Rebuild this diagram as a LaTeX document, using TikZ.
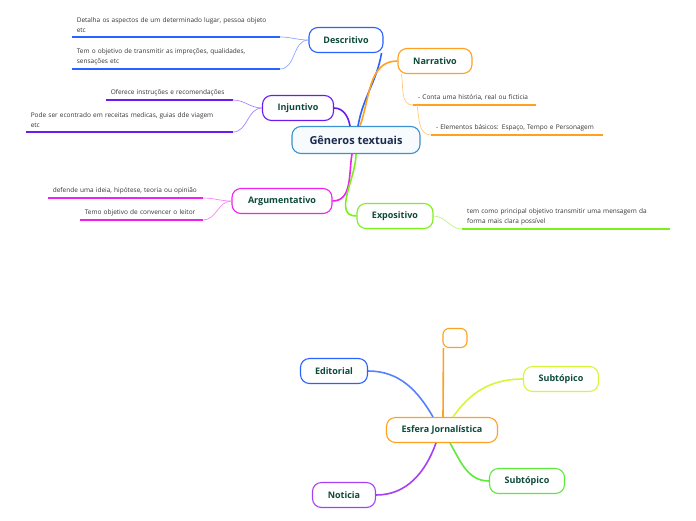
\documentclass[tikz,border=0pt]{standalone}
\usepackage{fontspec}
\setmainfont{Open Sans}
\usepackage{xcolor}
\usetikzlibrary{positioning}

\definecolor{nodetxt}{HTML}{0E4A3A}
\definecolor{maintxt}{HTML}{1B2B50}
\definecolor{leaftxt}{HTML}{333333}
\definecolor{cMain}{HTML}{3A92D0}
\definecolor{cDesc}{HTML}{2962FF}
\definecolor{cInj}{HTML}{6A1BF0}
\definecolor{cArg}{HTML}{EE22EE}
\definecolor{cNarr}{HTML}{FFA020}
\definecolor{cExpo}{HTML}{7CF01C}
\definecolor{cSubA}{HTML}{D8F53A}
\definecolor{cSubB}{HTML}{5CEB3A}
\definecolor{cNot}{HTML}{A640F5}

\begin{document}
\begin{tikzpicture}[
    x=1pt, y=-1pt,
    font=\bfseries\fontsize{9}{11}\selectfont,
    topic/.style={
      draw=#1,
      line width=1.1pt,
      rounded corners=9pt,
      fill=white,
      text=nodetxt,
      minimum height=25pt,
      inner xsep=0pt
    },
    leaf/.style={
      text width=#1,
      align=left,
      inner xsep=5pt,
      inner ysep=4pt,
      font=\fontsize{6.5}{10}\selectfont,
      text=leaftxt
    },
    branch/.style={draw=#1, line width=1.6pt},
    twig/.style={draw=#1!55, line width=0.7pt},
    uline/.style={draw=#1, line width=1.6pt}
  ]
    \useasboundingbox (0,0) rectangle (696,520);

    % first map
    \node[topic=cMain, minimum width=128pt, minimum height=27pt, fill=cMain!4,
      text=maintxt, font=\bfseries\fontsize{11}{13}\selectfont] (gt) at (356,140) {Gêneros textuais};
    \node[topic=cDesc, minimum width=74pt] (desc) at (346,40) {Descritivo};
    \node[topic=cNarr, minimum width=74pt] (narr) at (435,61) {Narrativo};
    \node[topic=cInj, minimum width=71pt] (inj) at (298,108) {Injuntivo};
    \node[topic=cArg, minimum width=100pt] (arg) at (282,201) {Argumentativo};
    \node[topic=cExpo, minimum width=76pt] (expo) at (395,216) {Expositivo};

    % leaves
    \node[leaf=198pt, anchor=south east] (d1) at (280,37)
      {Detalha os aspectos de um determinado lugar, pessoa objeto\\etc};
    \node[leaf=198pt, anchor=south east] (d2) at (280,69)
      {Tem o objetivo de transmitir as impreções, qualidades,\\sensações etc};
    \node[leaf=117pt, anchor=south east] (i1) at (233,100)
      {Oferece instruções e recomendações};
    \node[leaf=197pt, anchor=south east] (i2) at (233,132)
      {Pode ser econtrado em receitas medicas, guias dde viagem\\etc};
    \node[leaf=145pt, anchor=south east] (a1) at (203,198)
      {defende uma ideia, hipótese, teoria ou opinião};
    \node[leaf=113pt, anchor=south east] (a2) at (203,220)
      {Temo objetivo de convencer o leitor};
    \node[leaf=113pt, anchor=south west] (n1) at (413,105)
      {- Conta uma história, real ou ficticia};
    \node[leaf=162pt, anchor=south west] (n2) at (431,135)
      {- Elementos básicos: Espaço, Tempo e Personagem};
    \node[leaf=198pt, anchor=south west] (e1) at (462,229)
      {tem como principal objetivo transmitir uma mensagem da\\forma mais clara possível};

    \foreach \l/\c in {d1/cDesc, d2/cDesc, i1/cInj, i2/cInj, a1/cArg, a2/cArg,
                       n1/cNarr, n2/cNarr, e1/cExpo}
      \draw[uline=\c] (\l.south west) -- (\l.south east);

    \draw[branch=cDesc] ([xshift=2pt]gt.north) to[out=80, in=-100] ([xshift=-2pt]desc.south east);
    \draw[branch=cNarr] ([xshift=4pt]gt.north) to[out=70, in=180] (narr.west);
    \draw[branch=cInj] ([xshift=-6pt]gt.north) to[out=100, in=0] (inj.east);
    \draw[branch=cArg] ([xshift=-4pt]gt.south) to[out=-100, in=0] (arg.east);
    \draw[branch=cExpo] (gt.south) to[out=-90, in=180] (expo.west);

    \draw[twig=cDesc] (desc.west) to[out=180, in=0] (d1.south east);
    \draw[twig=cDesc] (desc.west) to[out=180, in=0] (d2.south east);
    \draw[twig=cInj] (inj.west) to[out=180, in=0] (i1.south east);
    \draw[twig=cInj] (inj.west) to[out=180, in=0] (i2.south east);
    \draw[twig=cArg] (arg.west) to[out=180, in=0] (a1.south east);
    \draw[twig=cArg] (arg.west) to[out=180, in=0] (a2.south east);
    \draw[twig=cNarr] ([xshift=4pt]narr.south west) to[out=-80, in=180] (n1.south west);
    \draw[twig=cNarr] ([xshift=4pt]n1.south west) to[out=-80, in=180] (n2.south west);
    \draw[twig=cExpo] (expo.east) to[out=0, in=180] (e1.south west);

    % second map
    \node[topic=cNarr, minimum width=111pt] (esf) at (442,430) {Esfera Jornalística};
    \node[topic=cNarr, minimum width=24pt, minimum height=19pt, rounded corners=6pt] (vazio) at (455,338) {};
    \node[topic=cDesc, minimum width=67pt] (edit) at (334,371) {Editorial};
    \node[topic=cSubA, minimum width=75pt] (subA) at (561,379) {Subtópico};
    \node[topic=cSubB, minimum width=75pt] (subB) at (527,481) {Subtópico};
    \node[topic=cNot, minimum width=63pt] (noti) at (344,495) {Noticia};

    \draw[branch=cNarr] ([xshift=1pt]esf.north) -- ([xshift=1pt]vazio.south west);
    \draw[branch=cDesc!80] ([xshift=-9pt]esf.north) to[out=120, in=0] (edit.east);
    \draw[branch=cSubA] ([xshift=11pt]esf.north) to[out=55, in=180] (subA.west);
    \draw[branch=cSubB] ([xshift=8pt]esf.south) to[out=-60, in=180] (subB.west);
    \draw[branch=cNot] ([xshift=-6pt]esf.south) to[out=-110, in=0] (noti.east);
  \end{tikzpicture}
\end{document}
